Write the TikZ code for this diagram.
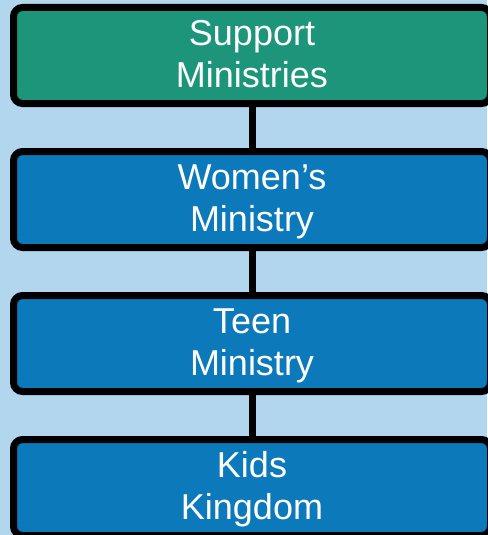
\documentclass[tikz,border=0pt]{standalone}
\usepackage{fontspec}
\setmainfont{Liberation Sans}
\usetikzlibrary{positioning}
\definecolor{pagebg}{RGB}{179, 214, 239}
\definecolor{supportgreen}{RGB}{29, 149, 122}
\definecolor{ministryblue}{RGB}{12, 121, 187}

\begin{document}
\begin{tikzpicture}[
  x=1pt, y=1pt,
  ministry/.style={
    draw=black,
    line width=7pt,
    rounded corners=9pt,
    fill=ministryblue,
    text=white,
    minimum width=477pt,
    minimum height=96pt,
    align=center,
    inner sep=0pt,
    text height=72pt,
    text depth=9pt,
    font=\fontsize{36}{42}\selectfont,
  },
  link/.style={
    draw=black,
    line width=7pt,
  }
]

  % === background and page size ===
  \fill[pagebg] (0,0) rectangle (487,-535);
  \useasboundingbox (0,0) rectangle (487,-535);

  % Boxes (top to bottom)
  \node[ministry, fill=supportgreen] (support) at (252,-55.5) {Support\\Ministries};
  \node[ministry, below=41pt of support] (women) {Women’s\\Ministry};
  \node[ministry, below=41pt of women] (teen) {Teen\\Ministry};
  \node[ministry, below=41pt of teen] (kids) {Kids\\Kingdom};

  % Links between boxes
  \draw[link] (support.south) -- (women.north);
  \draw[link] (women.south) -- (teen.north);
  \draw[link] (teen.south) -- (kids.north);

\end{tikzpicture}
\end{document}
